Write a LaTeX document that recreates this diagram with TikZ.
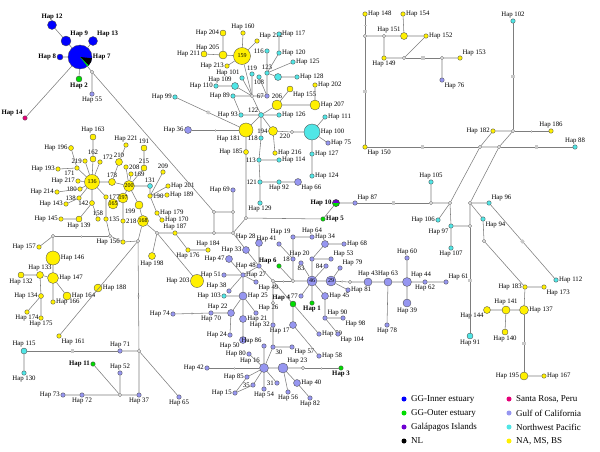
\documentclass[tikz,border=0pt]{standalone}
\usepackage{fontspec}
\setmainfont{Liberation Serif}
\usetikzlibrary{positioning}
\usetikzlibrary{decorations.markings}
\definecolor{gginc}{RGB}{0,0,255}
\definecolor{ggoutc}{RGB}{0,220,0}
\definecolor{galc}{RGB}{110,0,210}
\definecolor{src}{RGB}{230,0,120}
\definecolor{gcc}{RGB}{150,150,240}
\definecolor{nwpc}{RGB}{80,230,230}
\definecolor{napc}{RGB}{255,240,0}
\definecolor{edgec}{RGB}{125,125,125}
\definecolor{sqc}{RGB}{200,200,200}
\tikzset{hap/.style = {circle, draw=black!70, line width=0.35pt, inner sep=0pt,
                       minimum size=#1, font=\fontsize{6}{6}\selectfont},
         hap/.default = 4.5pt}
\tikzset{ggi/.style = {hap=#1, fill=gginc}, ggi/.default = 4.5pt}
\tikzset{ggo/.style = {hap=#1, fill=ggoutc}, ggo/.default = 4.5pt}
\tikzset{gal/.style = {hap=#1, fill=galc}, gal/.default = 4.5pt}
\tikzset{sr/.style = {hap=#1, fill=src}, sr/.default = 4.5pt}
\tikzset{gc/.style = {hap=#1, fill=gcc}, gc/.default = 4.5pt}
\tikzset{nwp/.style = {hap=#1, fill=nwpc}, nwp/.default = 4.5pt}
\tikzset{na/.style = {hap=#1, fill=napc}, na/.default = 4.5pt}
\tikzset{med/.style = {circle, draw=black!70, fill=white, line width=0.35pt,
                       inner sep=0pt, minimum size=3.2pt}}
\tikzset{ln/.style = {draw=edgec, line width=0.55pt}}
\tikzset{sq/.style = {decoration={markings,
                                  mark=at position 0.5 with {\fill[sqc] (-1.6pt,-1.6pt) rectangle (1.6pt,1.6pt);}},
                      postaction={decorate}}}
\tikzset{tk/.style = {decoration={markings,
                                  mark=at position 0.5 with {\draw[sqc, line width=0.9pt] (0,-1.5pt) -- (0,1.5pt);}},
                      postaction={decorate}}}
\tikzset{bl/.style = {label={[font=\fontsize{6.8}{7}\selectfont\bfseries]#1}}}
\tikzset{key/.style = {circle, inner sep=0pt, minimum size=5pt},
         keytext/.style = {anchor=west, font=\fontsize{9}{9}\selectfont, inner sep=0pt}}

\begin{document}
\begin{tikzpicture}[x=1pt, y=-1pt, every label/.style={font=\fontsize{6.8}{7}\selectfont, inner sep=0.6pt},
                    label distance=0pt]
\useasboundingbox (0,0) rectangle (600,451);
% GG cluster
\node[ggi=24pt, bl=right:Hap 7] (h7) at (80,57) {};
\fill[black] (h7.center) -- ++(-6:12pt) arc[start angle=-6, end angle=-44, radius=12pt] -- cycle;
\fill[ggoutc] (h7.center) -- ++(-44:12pt) arc[start angle=-44, end angle=-52, radius=12pt] -- cycle;
\node[ggi=9pt, bl=above:Hap 12] (h12) at (52,25) {};
\node[ggi=10pt, bl=above right:Hap 9] (h9) at (66,41) {};
\node[ggi=9pt, bl=above right:Hap 13] (h13) at (93,41) {};
\node[ggi=6pt, bl=left:Hap 8] (h8) at (60,57) {};
\node[ggo=6pt, bl=below:Hap 2] (h2) at (79,79) {};
\node[med] (m1) at (92,72) {};
\node[gc, label=below:Hap 55] (h55) at (92,94) {};
\node[sr, bl=above left:Hap 14] (h14) at (25,118) {};
% NA / NW Pacific cluster, top
\node[na=17pt] (h159) at (242,56) {159};
\node[na, label=above:Hap 160] (h160) at (243,33) {};
\node[na, label=above right:Hap 212] (h212) at (257,41) {};
\node[na=6pt, label=left:Hap 204] (h204) at (223,33) {};
\node[na=8pt, label=above left:Hap 205] (h205) at (223,55) {};
\node[na=6pt, label=left:Hap 211] (h211) at (204,54) {};
\node[na, label=left:Hap 213] (h213) at (227,66) {};
\node[med] (m2) at (252,96) {};
\node[nwp, label=above:119] (h119) at (252,74) {};
\node[nwp, label=above left:Hap 101] (h101) at (242,78) {};
\node[nwp, label=above:123] (h123) at (267,73) {};
\node[nwp, label=below:108] (h108) at (259,77) {};
\node[nwp, label=left:116] (h116) at (267,51) {};
\node[nwp, label=right:Hap 117] (h117) at (279,34) {};
\node[nwp, label=right:Hap 120] (h120) at (279,53) {};
\node[nwp, label=right:Hap 125] (h125) at (293,62) {};
\node[nwp=7pt] (h107b) at (278,77) {};
\node[nwp, label=right:Hap 128] (h128) at (297,77) {};
\node[nwp=7pt, label=above left:Hap 109] (h109) at (235,86) {};
\node[nwp, label=left:Hap 110] (h110) at (216,86) {};
\node[nwp, label=left:Hap 89] (h89) at (233,96) {};
\node[gc, label=left:67] (h67) at (267,96) {};
\node[nwp=5pt, label=above left:122] (h122) at (261,115) {};
\node[nwp, label=left:Hap 93] (h93) at (241,115) {};
\node[nwp, label=right:Hap 126] (h126) at (279,115) {};
\node[nwp, label=left:Hap 99] (h99) at (175,97) {};
\node[na=14pt, label=below left:Hap 181] (h181) at (246,130) {};
\node[gc=7pt, label=left:Hap 36] (h36) at (188,130) {};
\node[nwp, label=left:118] (h118) at (261,138) {};
\node[na=9pt, label=left:194] (h194) at (273,131) {};
\node[na=10pt, label=above:206] (h206) at (277,105) {};
\node[na=6pt, label=below right:Hap 155] (h155) at (290,89) {};
\node[na=10pt, label=right:Hap 207] (h207) at (315,105) {};
\node[na, label=right:Hap 202] (h202) at (315,85) {};
\node[nwp, label=right:Hap 111] (h111) at (325,117) {};
\node[nwp=16pt, label=right:Hap 100] (h100) at (312,132) {};
\node[gc, label=right:Hap 75] (h75) at (328,143) {};
\node[med, label=below left:220] (m3) at (292,132) {};
\node[na=5pt, label=left:Hap 185] (h185) at (246,152) {};
\node[na, label=right:Hap 216] (h216) at (275,153) {};
\node[nwp, label=left:113] (h113) at (259,160) {};
\node[nwp, label=right:Hap 114] (h114) at (279,160) {};
\node[nwp, label=left:121] (h121) at (260,182) {};
\node[nwp, label=below:Hap 92] (h92) at (279,182) {};
\node[gc=7pt, label=below right:Hap 66] (h66) at (298,182) {};
\node[nwp, label=below:Hap 129] (h129) at (260,203) {};
\node[nwp, label=right:Hap 127] (h127) at (312,154) {};
\node[nwp, label=right:Hap 124] (h124) at (312,176) {};
% NA cluster, top right
\node[na, label=right:Hap 148] (h148) at (365,14) {};
\node[na, label=right:Hap 154] (h154) at (403,14) {};
\node[na=7pt, label=above left:Hap 151] (h151) at (404,36) {};
\node[na, label=right:Hap 152] (h152) at (426,36) {};
\node[na, label=below:Hap 149] (h149) at (384,58) {};
\node[med] (m4) at (365,36) {};
\node[med] (m5) at (384,36) {};
\node[med] (m6) at (404,58) {};
\node[med] (m7) at (442,58) {};
\node[na, label=above right:Hap 153] (h153) at (460,58) {};
\node[gc, label=below right:Hap 76] (h76) at (442,80) {};
\node[na, label=below right:Hap 150] (h150) at (365,147) {};
\node[nwp, label=above:Hap 102] (h102) at (513,21) {};
\node[med] (m8) at (513,131) {};
\node[na, label=left:Hap 182] (h182) at (493,131) {};
\node[na, label=above:Hap 186] (h186) at (551,131) {};
\node[med] (m9) at (480,147) {};
\node[med] (m10) at (499,147) {};
\node[nwp, label=above:Hap 88] (h88) at (575,147) {};
% right side
\node[med] (m11) at (450,203) {};
\node[med] (m12) at (470,203) {};
\node[nwp, label=above:Hap 105] (h105) at (431,182) {};
\node[med] (m13) at (431,203) {};
\node[gc, label=above right:Hap 87] (h87) at (355,203) {};
\node[gal=7pt, bl=left:Hap 10] (h10) at (336,203) {};
\fill[ggoutc] (h10.west) arc[start angle=180, end angle=360, radius=3.5pt] -- cycle;
\draw[black!70, line width=0.35pt] (h10.center) circle[radius=3.5pt];
\node[ggo, bl=right:Hap 5] (h5) at (323,219) {};
\node[nwp, label=left:Hap 106] (h106) at (438,220) {};
\node[nwp, label=below left:Hap 97] (h97) at (451,226) {};
\node[nwp, label=below:Hap 107] (h107) at (451,248) {};
\node[nwp, label=above right:Hap 96] (h96) at (489,203) {};
\node[nwp, label=below right:Hap 94] (h94) at (483,219) {};
\node[med] (m14) at (470,226) {};
\node[med] (m15) at (484,241) {};
\node[nwp, label=right:Hap 112] (h112) at (556,280) {};
\node[na, label=left:Hap 183] (h183) at (525,287) {};
\node[na, label=below right:Hap 173] (h173) at (544,287) {};
\node[na=9pt, label=right:Hap 137] (h137) at (524,310) {};
\node[na=8pt, label=above:Hap 141] (h141) at (506,310) {};
\node[na=7pt, label=below left:Hap 144] (h144) at (487,310) {};
\node[na=6pt, label=below:Hap 140] (h140) at (505,332) {};
\node[na=8pt, label=left:Hap 195] (h195) at (524,376) {};
\node[na, label=right:Hap 167] (h167) at (544,376) {};
\node[nwp=6pt, label=below:Hap 91] (h91) at (470,336) {};
% left NA cluster
\node[na=6pt, label=above:Hap 163] (h163) at (93,137) {};
\node[na, label=above:Hap 221] (h221) at (126,145) {};
\node[na=6pt, label=above:191] (h191) at (144,148) {};
\node[na=5pt, label=left:Hap 196] (h196) at (71,148) {};
\node[na=6pt, label=above:162] (h162) at (93,159) {};
\node[na, label=left:219] (h219) at (85,161) {};
\node[na, label=above right:172] (h172) at (100,162) {};
\node[na=7pt, label=above:210] (h210) at (119,162) {};
\node[na, label=right:208] (h208) at (126,167) {};
\node[na, label=right:169] (h169) at (131,174) {};
\node[na=6pt, label=above:215] (h215) at (144,168) {};
\node[na, label=below left:171] (h171) at (77,168) {};
\node[na, label=left:Hap 193] (h193) at (58,169) {};
\node[na=15pt] (h136) at (92,182) {136};
\node[na, label=left:Hap 217] (h217) at (78,181) {};
\node[na, label=left:180] (h180) at (80,189) {};
\node[na, label=left:Hap 214] (h214) at (57,192) {};
\node[na=7pt, label=above:178] (h178) at (112,182) {};
\node[na=11pt] (h200) at (129,186) {200};
\node[nwp=5pt, label=above:131] (h131) at (150,186) {};
\node[na, label=left:138] (h138) at (79,198) {};
\node[na, label=left:Hap 143] (h143) at (66,204) {};
\node[na=5pt, label=left:142] (h142) at (92,203) {};
\node[na, label=right:177] (h177) at (106,197) {};
\node[na=9pt] (h165) at (113,204) {165};
\node[na=8pt] (h197) at (123,198) {197};
\node[na=8pt, label=below left:199] (h199) at (139,205) {};
\node[na, label=left:Hap 145] (h145) at (61,219) {};
\node[na=6pt, label=below:Hap 139] (h139) at (79,219) {};
\node[na, label=above:158] (h158) at (98,219) {};
\node[na, label=right:135] (h135) at (106,219) {};
\node[na, label=right:218] (h218) at (123,221) {};
\node[na=11pt] (h168) at (143,221) {168};
\node[na, label=left:Hap 156] (h156) at (123,242) {};
\node[med] (m25) at (110,236) {};
\node[med] (m26) at (138,241) {};
\node[med] (m27) at (53,236) {};
\node[na, label=right:190] (h190) at (150,196) {};
\node[na, label=above:209] (h209) at (163,172) {};
\node[na, label=right:Hap 201] (h201) at (168,186) {};
\node[na, label=right:Hap 189] (h189) at (167,195) {};
\node[na, label=right:Hap 179] (h179) at (157,213) {};
\node[na, label=right:Hap 170] (h170) at (162,220) {};
\node[na, label=left:Hap 157] (h157) at (39,247) {};
\node[na=14pt, label=right:Hap 146] (h146) at (53,258) {};
\node[na=7pt, label=above:Hap 133] (h133) at (40,275) {};
\node[na=6pt, label=below:Hap 132] (h132) at (21,275) {};
\node[na=11pt, label=right:Hap 147] (h147) at (53,278) {};
\node[na=8pt, label=right:Hap 164] (h164) at (67,296) {};
\node[na=5pt, label=left:Hap 134] (h134) at (41,296) {};
\node[na, label=below:Hap 174] (h174) at (27,312) {};
\node[na, label=below:Hap 175] (h175) at (41,318) {};
\node[na, label=right:Hap 166] (h166) at (53,302) {};
\node[na=8pt, label=right:Hap 188] (h188) at (98,288) {};
\node[na, label=below right:Hap 161] (h161) at (59,336) {};
% bottom left
\node[nwp=6pt, label=above:Hap 115] (h115) at (24,351) {};
\node[nwp, label=below:Hap 130] (h130) at (24,373) {};
\node[gc, label=above:Hap 71] (h71) at (120,351) {};
\node[med] (m28) at (139,351) {};
\node[ggo, bl=left:Hap 11] (h11) at (93,364) {};
\node[gc, label=above:Hap 52] (h52) at (120,373) {};
\node[med] (m29) at (120,395) {};
\node[gc, label=below:Hap 37] (h37) at (139,395) {};
\node[gc, label=left:Hap 73] (h73) at (63,395) {};
\node[gc, label=below:Hap 72] (h72) at (82,395) {};
\node[gc, label=below:Hap 65] (h65) at (179,397) {};
% centre
\node[med] (m16) at (214,212) {};
\node[med] (m17) at (233,212) {};
\node[med] (m18) at (214,233) {};
\node[med] (m19) at (233,233) {};
\node[med] (m20) at (246,218) {};
\node[gc, label=left:Hap 69] (h69) at (233,190) {};
\node[na, label=above:Hap 187] (h187) at (175,233) {};
\node[na, label=below:Hap 176] (h176) at (188,250) {};
\node[na, label=above:Hap 184] (h184) at (208,250) {};
\node[med] (m21) at (157,233) {};
\node[na=13pt, label=left:Hap 203] (h203) at (197,281) {};
\node[na=7pt, label=below:Hap 198] (h198) at (152,256) {};
% Gulf of California cluster
\node[gc=7pt, label=above left:Hap 28] (h28) at (259,243) {};
\node[gc=7pt, label=left:Hap 33] (h33) at (246,250) {};
\node[gc=7pt, label=left:Hap 47] (h47) at (229,259) {};
\node[gc, label=left:Hap 48] (h48) at (259,266) {};
\node[gc, label=left:Hap 51] (h51) at (224,275) {};
\node[gc, label=right:Hap 27] (h27) at (243,275) {};
\node[gc, label=above left:Hap 38] (h38) at (229,291) {};
\node[gc, label=below right:Hap 49] (h49) at (256,282) {};
\node[nwp, label=left:Hap 103] (h103) at (224,296) {};
\node[gc=8pt, label=right:Hap 25] (h25) at (243,296) {};
\node[ggo, bl=above left:Hap 6] (h6) at (279,266) {};
\node[gc, label=above left:Hap 41] (h41) at (279,244) {};
\node[gc, label=above left:Hap 19] (h19) at (293,237) {};
\node[gc, label=above:Hap 64] (h64) at (312,237) {};
\node[gc, label=left:18] (h18) at (293,259) {};
\node[med] (m22) at (273,281) {};
\node[med] (m30) at (293,281) {};
\node[gc, label=below:83] (h83) at (301,263) {};
\node[gc, label=above left:Hap 20] (h20) at (312,259) {};
\node[gc, label=above right:Hap 53] (h53) at (331,259) {};
\node[gc=7pt, label=above:Hap 34] (h34) at (325,244) {};
\node[gc, label=right:Hap 68] (h68) at (344,244) {};
\node[gc, label=left:84] (h84) at (326,266) {};
\node[gc, label=above right:Hap 79] (h79) at (340,268) {};
\node[gc=10pt] (h46) at (312,281) {46};
\node[gc=10pt] (h29) at (331,281) {29};
\node[med] (m23) at (350,282) {};
\node[gc=8pt, label=above:Hap 43] (h43) at (368,282) {};
\node[gc=8pt, label=above:Hap 63] (h63) at (388,282) {};
\node[gc=9pt, label=above right:Hap 44] (h44) at (407,282) {};
\node[gc, label=below:Hap 62] (h62) at (425,282) {};
\node[gc, label=above right:Hap 61] (h61) at (446,282) {};
\node[gc, label=above:Hap 60] (h60) at (407,258) {};
\node[gc=8pt, label=below:Hap 39] (h39) at (407,303) {};
\node[gc, label=below:Hap 78] (h78) at (387,325) {};
\node[gc, label=right:Hap 81] (h81) at (348,290) {};
\node[gc=7pt, label=right:Hap 45] (h45) at (325,296) {};
\node[gc, label=left:77] (h77) at (301,296) {};
\node[ggo=6pt, bl=above left:Hap 4] (h4) at (293,304) {};
\node[med] (m31) at (273,303) {};
\node[ggo, bl=below:Hap 1] (h1) at (312,303) {};
\node[gc, label=above right:Hap 90] (h90) at (325,318) {};
\node[gc, label=below right:Hap 98] (h98) at (343,318) {};
\node[gc=7pt, label=below left:Hap 17] (h17) at (293,325) {};
\node[gc, label=right:Hap 59] (h59) at (319,334) {};
\node[gc, label=below right:Hap 104] (h104) at (338,334) {};
\node[gc, label=right:Hap 58] (h58) at (319,356) {};
\node[ggo, bl=below:Hap 3] (h3) at (341,368) {};
\node[med] (m24) at (303,368) {};
\node[gc=7pt, label=right:Hap 40] (h40) at (297,383) {};
\node[gc, label=below:Hap 82] (h82) at (310,398) {};
\node[gc, label=left:Hap 74] (h74) at (173,314) {};
\node[gc, label=below:Hap 70] (h70) at (211,313) {};
\node[gc=7pt, label=above left:Hap 22] (h22) at (231,313) {};
\node[gc, label=above right:Hap 26] (h26) at (256,313) {};
\node[gc=7pt, label=right:Hap 21] (h21) at (243,319) {};
\node[gc, label=left:Hap 24] (h24) at (230,335) {};
\node[gc=7pt, label=below left:Hap 50] (h50) at (243,340) {};
\node[gc, label=left:Hap 32] (h32) at (273,325) {};
\node[gc, label=above left:Hap 86] (h86) at (264,346) {};
\node[gc, label=below right:30] (h30) at (273,347) {};
\node[gc, label=below right:Hap 57] (h57) at (292,347) {};
\node[gc, label=left:Hap 80] (h80) at (249,354) {};
\node[gc=9pt, label=above left:Hap 16] (h16) at (264,368) {};
\node[gc, label=left:Hap 42] (h42) at (207,368) {};
\node[gc=10pt, label=above right:Hap 23] (h23) at (283,368) {};
\node[gc, label=left:Hap 85] (h85) at (247,377) {};
\node[gc, label=left:35] (h35) at (253,385) {};
\node[gc, label=left:31] (h31) at (277,383) {};
\node[gc, label=left:Hap 15] (h15) at (235,393) {};
\node[gc, label=below:Hap 54] (h54) at (264,389) {};
\node[gc, label=below:Hap 56] (h56) at (288,392) {};
% connectors
\draw[ln] (h12) -- (h9) (h9) -- (h7) (h13) -- (h7) (h8) -- (h7) (h2) -- (h7);
\draw[ln] (h7) -- (m1) (m1) -- (h55) (h7) -- (h14) (m1) -- (m16);
\draw[ln] (h159) -- (h160) (h159) -- (h212) (h159) -- (h205) (h205) -- (h204)
          (h205) -- (h211) (h159) -- (h213) (h159) -- (m2);
\draw[ln] (m2) -- (h119) (m2) -- (h101) (m2) -- (h109) (m2) -- (h89) (m2) -- (h67)
          (m2) -- (h122) (h109) -- (h110) (h67) -- (h108) (h67) -- (h123);
\draw[ln] (h123) -- (h116) (h123) -- (h120) (h120) -- (h117) (h123) -- (h125) (h123) -- (h107b)
          (h107b) -- (h128);
\draw[ln] (h122) -- (h93) (h122) -- (h126) (h122) -- (h181) (h122) -- (h118)
          (h122) -- (h194) (h122) -- (h206) (h89) -- (h93);
\draw[ln, sq] (h99) -- (h181);
\draw[ln, tk] (h36) -- (h181);
\draw[ln] (h206) -- (h155) (h206) -- (h207) (h207) -- (h202);
\draw[ln] (h194) -- (m3) (m3) -- (h100) (h100) -- (h111) (h100) -- (h75) (h100) -- (h127)
          (h127) -- (h124);
\draw[ln] (h181) -- (h185) (h185) -- (m20) (h118) -- (h113) (h113) -- (h121) (h121) -- (h129)
          (h113) -- (h114) (h121) -- (h92) (h92) -- (h66) (h194) -- (h216);
% top right
\draw[ln] (m4) -- (m5) (m5) -- (h151) (h151) -- (h152) (h151) -- (h154)
          (m5) -- (h149) (h149) -- (m6) (m6) -- (h152) (m7) -- (h153) (m7) -- (h76);
\draw[ln, tk] (h148) -- (m4);
\draw[ln, sq] (m4) -- (h150);
\draw[ln, sq] (m6) -- (m7);
\draw[ln, sq] (h150) -- (m9);
\draw[ln, sq] (m10) -- (h88);
\draw[ln, sq] (m8) -- (h102);
\draw[ln, tk] (m8) -- (h186);
\draw[ln] (m9) -- (m10) (m9) -- (h182) (m10) -- (m8) (h182) -- (m8);
% right
\draw[ln] (m9) -- (m11) (m10) -- (m12) (h10) -- (h87) (m13) -- (m11) (m13) -- (h105)
          (m11) -- (h106) (m11) -- (h97) (h97) -- (h107) (h97) -- (m14) (m12) -- (m14)
          (m12) -- (h96) (m12) -- (h94) (h94) -- (m15) (m15) -- (h183) (h183) -- (h173)
          (h183) -- (h137) (h137) -- (h141) (h141) -- (h144) (h141) -- (h140) (h195) -- (h167)
          (h10) -- (h5) (h5) -- (m20);
\draw[ln, sq] (h87) -- (m13);
\draw[ln, sq] (m14) -- (h91);
\draw[ln, sq] (h96) -- (h112);
\draw[ln, sq] (h137) -- (h195);
% left cluster
\draw[ln] (h163) -- (h162) (h162) -- (h136) (h219) -- (h136) (h172) -- (h136) (h171) -- (h136)
          (h171) -- (h193) (h217) -- (h136) (h180) -- (h136) (h180) -- (h214) (h138) -- (h136)
          (h138) -- (h143) (h142) -- (h136) (h142) -- (h139) (h139) -- (h145) (h142) -- (h158)
          (h177) -- (h136) (h177) -- (h135) (h178) -- (h136) (h178) -- (h210) (h178) -- (h200)
          (h200) -- (h208) (h200) -- (h169) (h200) -- (h215) (h200) -- (h131) (h200) -- (h197)
          (h197) -- (h165) (h200) -- (h199) (h199) -- (h168) (h197) -- (h218) (h218) -- (h156)
          (h221) -- (h210) (h191) -- (h215) (h196) -- (h171);
\draw[ln] (h135) -- (m25) (m25) -- (h156) (h156) -- (m26) (m26) -- (h168) (m27) -- (h157)
          (m27) -- (h146) (h146) -- (h147) (h147) -- (h133) (h133) -- (h132) (h133) -- (h134)
          (h147) -- (h164) (h147) -- (h166) (h134) -- (h174) (h134) -- (h175);
\draw[ln, tk] (m27) -- (m25);
\draw[ln] (h161) -- (m26);
\draw[ln, tk] (m26) -- (m28);
\draw[ln] (h131) -- (h190) (h190) -- (h189) (h190) -- (h201) (h190) -- (h209) (h190) -- (h179)
          (h179) -- (h170) (h168) -- (m21);
% bottom left
\draw[ln, sq] (h115) -- (h71);
\draw[ln] (h71) -- (m28) (h115) -- (h130) (h11) -- (m29) (h52) -- (m29) (m29) -- (h37)
          (m29) -- (h72) (h72) -- (h73) (m28) -- (h37) (m28) -- (h65);
% centre
\draw[ln] (m16) -- (m17) (m16) -- (m18) (m17) -- (m19) (m18) -- (m19) (m17) -- (h69)
          (m19) -- (m20) (m18) -- (h187) (h187) -- (m21) (h187) -- (h176) (h176) -- (h184)
          (m21) -- (h198) (m21) -- (h203);
\draw[ln] (m19) -- (h33) (h33) -- (h48) (h48) -- (m22) (h28) -- (h48) (h27) -- (h47)
          (h48) -- (h27) (h27) -- (h51) (h27) -- (h38) (h27) -- (h25) (h27) -- (h49) (h25) -- (h103)
          (h25) -- (h22) (h25) -- (h21) (h25) -- (h26) (h22) -- (h70) (h22) -- (h24) (h21) -- (h50);
\draw[ln, tk] (h70) -- (h74);
\draw[ln] (h19) -- (h64) (h19) -- (h18) (h18) -- (m30) (h41) -- (h18) (h6) -- (m30)
          (m30) -- (h46) (h46) -- (h83) (h46) -- (h20) (h20) -- (h53) (h20) -- (h34) (h34) -- (h68)
          (h46) -- (h84) (h46) -- (h29) (h29) -- (h79) (h29) -- (h81) (h46) -- (h1) (h46) -- (h45)
          (h46) -- (h77);
\draw[ln, tk] (m22) -- (m30);
\draw[ln, tk] (h29) -- (m23);
\draw[ln] (m23) -- (h43) (h43) -- (h63) (h63) -- (h44) (h44) -- (h62) (h62) -- (h61) (h44) -- (h60)
          (h44) -- (h39) (h63) -- (h78);
\draw[ln] (m22) -- (h4) (m22) -- (m31) (m31) -- (h32) (h4) -- (h17) (h4) -- (h59) (h17) -- (h58)
          (h45) -- (h90) (h90) -- (h98) (h90) -- (h104);
\draw[ln] (h32) -- (h30) (h30) -- (h57) (h30) -- (h16) (h86) -- (h16) (h16) -- (h80) (h16) -- (h85)
          (h85) -- (h15) (h16) -- (h35) (h35) -- (h15) (h16) -- (h54) (h16) -- (h31)
          (h16) -- (h23) (h23) -- (m24) (h23) -- (h40) (h40) -- (h82) (h23) -- (h56);
\draw[ln, tk] (h16) -- (h42);
\draw[ln, tk] (m24) -- (h3);
% legend
\node[key, fill=gginc] (k1) at (404,399) {};
\node[keytext] at (411,399) {GG-Inner estuary};
\node[key, fill=ggoutc] (k2) at (404,413) {};
\node[keytext] at (411,413) {GG-Outer estuary};
\node[key, fill=galc] (k3) at (404,427) {};
\node[keytext] at (411,427) {Galápagos Islands};
\node[key, fill=black] (k4) at (404,441) {};
\node[keytext] at (411,441) {NL};
\node[key, fill=src] (k5) at (509,399) {};
\node[keytext] at (516,399) {Santa Rosa, Peru};
\node[key, fill=gcc] (k6) at (509,413) {};
\node[keytext] at (516,413) {Gulf of California};
\node[key, fill=nwpc] (k7) at (509,427) {};
\node[keytext] at (516,427) {Northwest Pacific};
\node[key, fill=napc] (k8) at (509,441) {};
\node[keytext] at (516,441) {NA, MS, BS};
\end{tikzpicture}
\end{document}
